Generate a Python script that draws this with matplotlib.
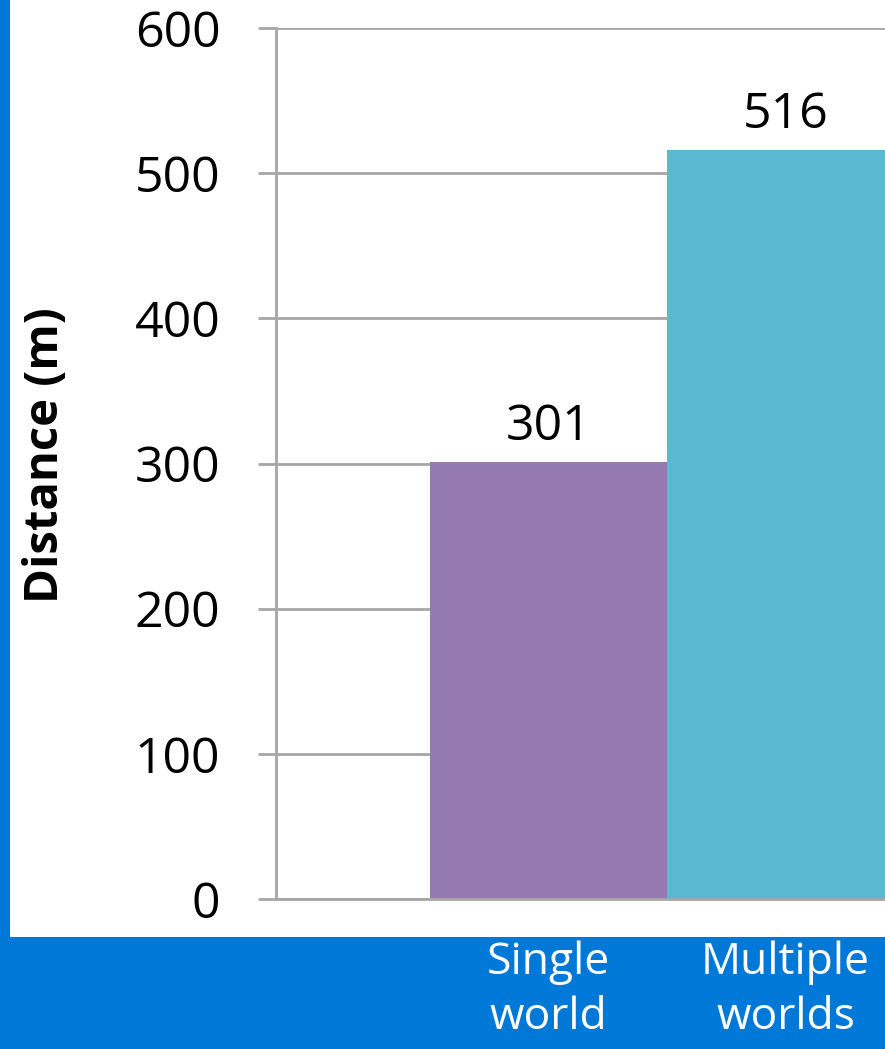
import matplotlib
matplotlib.use('Agg')
import matplotlib.pyplot as plt
from matplotlib.patches import Rectangle

# 数据
categories = ['Single\nworld', 'Multiple\nworlds']
distances = [301, 516]
bar_colors = ['#947AB0', '#5BB8D1']
y_ticks = [0, 100, 200, 300, 400, 500, 600]

plt.rcParams['font.family'] = ['Open Sans', 'DejaVu Sans']

W, H = 885, 1049
fig = plt.figure(figsize=(W / 100, H / 100), dpi=100)
fig.patch.set_facecolor('#0078D7')

# 白色背景区域
fig.patches.append(Rectangle((10 / W, (H - 937) / H), 1 - 10 / W, 937 / H,
                             transform=fig.transFigure, facecolor='white',
                             edgecolor='none', zorder=-5))

ax = fig.add_axes([276 / W, (H - 899) / H, (W - 276) / W, (899 - 28) / H])
ax.set_facecolor('none')
ax.set_zorder(1)

x = list(range(len(distances)))
ax.bar(x, distances, width=1.0, color=bar_colors, zorder=2)
for xi, v in zip(x, distances):
    ax.text(xi, v + 7, str(v), ha='center', va='bottom', fontsize=36, color='black')

ax.set_xlim(-1.15, 1.42)
ax.set_ylim(0, 600)
ax.set_yticks(y_ticks)
ax.yaxis.grid(True, color='#A6A6A6', linewidth=2, zorder=1)
ax.set_axisbelow(True)

for s in ['top', 'right']:
    ax.spines[s].set_visible(False)
ax.spines['left'].set_color('#A6A6A6')
ax.spines['left'].set_linewidth(2)
ax.spines['bottom'].set_color('#A6A6A6')
ax.spines['bottom'].set_linewidth(2)
ax.spines['bottom'].set_zorder(3)

ax.tick_params(axis='y', length=13, width=2, color='#A6A6A6', pad=27,
               labelsize=36, labelcolor='black')
ax.set_xticks(x)
ax.set_xticklabels(categories, color='white', fontsize=32, linespacing=1.3)
ax.tick_params(axis='x', length=0, pad=30)

fig.text(46 / W, 1 - 455 / H, 'Distance (m)', rotation=90, ha='center', va='center',
         fontsize=34, fontweight='bold', color='black')

fig.savefig('out.png', dpi=100, facecolor=fig.get_facecolor())
